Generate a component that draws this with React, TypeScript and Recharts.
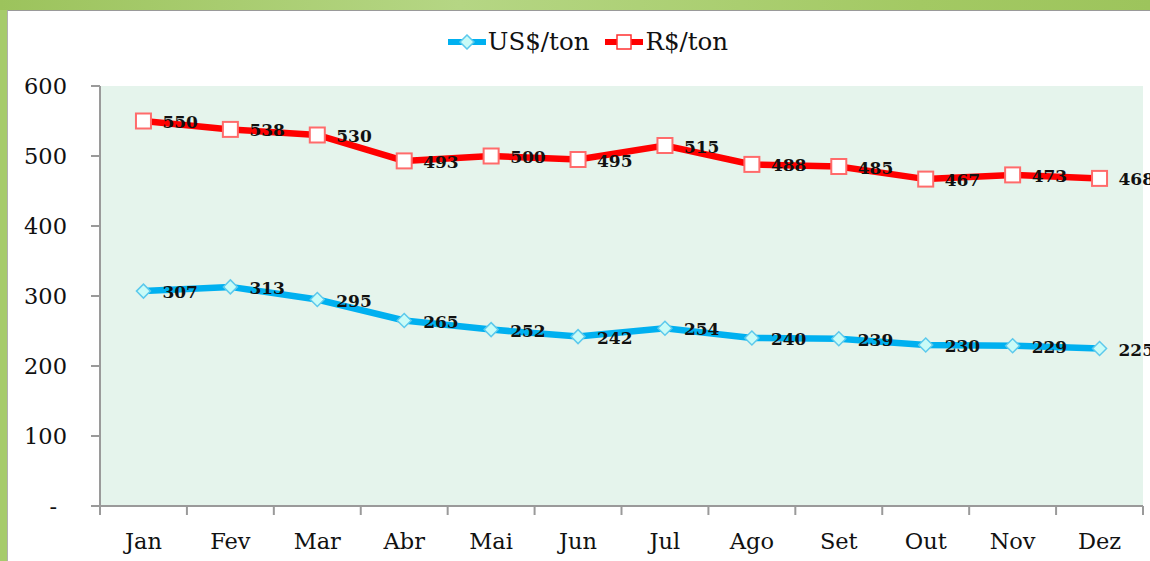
import React from 'react';
import { LineChart, Line, XAxis, YAxis, CartesianGrid, LabelList } from 'recharts';

const months = ['Jan', 'Fev', 'Mar', 'Abr', 'Mai', 'Jun', 'Jul', 'Ago', 'Set', 'Out', 'Nov', 'Dez'];
const usdPerTon = [307, 313, 295, 265, 252, 242, 254, 240, 239, 230, 229, 225];
const brlPerTon = [550, 538, 530, 493, 500, 495, 515, 488, 485, 467, 473, 468];
const yTicks = [0, 100, 200, 300, 400, 500, 600];

const chartData = months.map((m, i) => ({ m, usd: usdPerTon[i], brl: brlPerTon[i] }));

const FONT = '"DejaVu Serif", serif';
const TEXT = '#111111';
const AXIS = '#9a9a9a';

const Diamond = (props: any) => {
    const { cx, cy } = props;
    if (cx == null || cy == null) return null;
    const r = 7;
    return (
        <path
            d={`M${cx},${cy - r} L${cx + r},${cy} L${cx},${cy + r} L${cx - r},${cy} Z`}
            fill="#c9fbf7"
            stroke="#5cc9ec"
            strokeWidth={1.5}
        />
    );
};

const Square = (props: any) => {
    const { cx, cy } = props;
    if (cx == null || cy == null) return null;
    const r = 7.5;
    return <rect x={cx - r} y={cy - r} width={r * 2} height={r * 2} fill="#ffffff" stroke="#ff6b6b" strokeWidth={2} />;
};

const ValueLabel = (props: any) => {
    const { x, y, value } = props;
    return (
        <text x={x + 19} y={y + 7} fontFamily={FONT} fontWeight="bold" fontSize={17} fill="#111">
            {value}
        </text>
    );
};

const MonthTick = (props: any) => {
    const { x, y, payload, index, width } = props;
    const band = (width || 1043) / months.length;
    return (
        <g>
            <line x1={x - band / 2} y1={y} x2={x - band / 2} y2={y + 9} stroke={AXIS} strokeWidth={2} />
            {index === months.length - 1 && (
                <line x1={x + band / 2} y1={y} x2={x + band / 2} y2={y + 9} stroke={AXIS} strokeWidth={2} />
            )}
            <text x={x} y={y + 43} textAnchor="middle" fontFamily={FONT} fontSize={22.5} fill={TEXT}>
                {payload.value}
            </text>
        </g>
    );
};

const ValueTick = (props: any) => {
    const { x, y, payload } = props;
    const zero = payload.value === 0;
    return (
        <text x={zero ? x - 10 : x} y={y + 8} textAnchor="end" fontFamily={FONT} fontSize={22.5} fill={TEXT}>
            {zero ? '-' : payload.value}
        </text>
    );
};

const ChartLegend = () => (
    <div
        style={{
            position: 'absolute',
            left: 0,
            top: 16,
            width: 1142,
            display: 'flex',
            justifyContent: 'center',
            alignItems: 'center',
            fontFamily: FONT,
            fontSize: 24.5,
            color: TEXT,
            paddingLeft: 18,
            boxSizing: 'border-box',
        }}
    >
        <svg width={38} height={16} style={{ marginRight: 2 }}>
            <line x1={0} y1={8} x2={38} y2={8} stroke="#00b0f0" strokeWidth={6} strokeLinecap="round" />
            <path d="M19,1 L26,8 L19,15 L12,8 Z" fill="#c9fbf7" stroke="#5cc9ec" strokeWidth={1.5} />
        </svg>
        <span style={{ marginRight: 16 }}>US$/ton</span>
        <svg width={38} height={16} style={{ marginRight: 2 }}>
            <line x1={0} y1={8} x2={38} y2={8} stroke="#ff0000" strokeWidth={6} strokeLinecap="round" />
            <rect x={12} y={1} width={14} height={14} fill="#ffffff" stroke="#ff3030" strokeWidth={1.5} />
        </svg>
        <span>R$/ton</span>
    </div>
);

export default function App() {
    return (
        <div
            style={{
                position: 'absolute',
                left: 0,
                top: 0,
                width: 1150,
                height: 561,
                background: '#a6cb6c',
                overflow: 'hidden',
            }}
        >
            <div style={{ position: 'absolute', left: 0, top: 0, width: 1150, height: 10, background: 'linear-gradient(90deg, #9cc35c, #b5d684 40%, #a3c963 80%, #9dc45c)' }} />
            <div
                style={{
                    position: 'absolute',
                    left: 7,
                    top: 10,
                    width: 1143,
                    height: 551,
                    background: '#ffffff',
                    borderTop: '1px solid #9a9a9a',
                    borderLeft: '1px solid #b0b0b0',
                }}
            >
                <ChartLegend />
                <LineChart width={1142} height={550} data={chartData} margin={{ top: 75, right: 7, bottom: 0, left: 0 }}>
                    <CartesianGrid horizontal={false} vertical={false} fill="#e5f4ec" />
                    <XAxis
                        dataKey="m"
                        scale="band"
                        height={55}
                        stroke={AXIS}
                        strokeWidth={2}
                        tickLine={false}
                        tickSize={0}
                        tickMargin={0}
                        tick={<MonthTick />}
                        interval={0}
                    />
                    <YAxis
                        width={92}
                        domain={[0, 600]}
                        ticks={yTicks}
                        stroke={AXIS}
                        strokeWidth={2}
                        tickSize={9}
                        tickMargin={24}
                        tick={<ValueTick />}
                        interval={0}
                    />
                    <Line
                        type="linear"
                        dataKey="usd"
                        name="US$/ton"
                        stroke="#00b0f0"
                        strokeWidth={6.5}
                        dot={<Diamond />}
                        activeDot={false}
                        isAnimationActive={false}
                    >
                        <LabelList dataKey="usd" content={<ValueLabel />} />
                    </Line>
                    <Line
                        type="linear"
                        dataKey="brl"
                        name="R$/ton"
                        stroke="#ff0000"
                        strokeWidth={6.5}
                        dot={<Square />}
                        activeDot={false}
                        isAnimationActive={false}
                    >
                        <LabelList dataKey="brl" content={<ValueLabel />} />
                    </Line>
                </LineChart>
            </div>
        </div>
    );
}
